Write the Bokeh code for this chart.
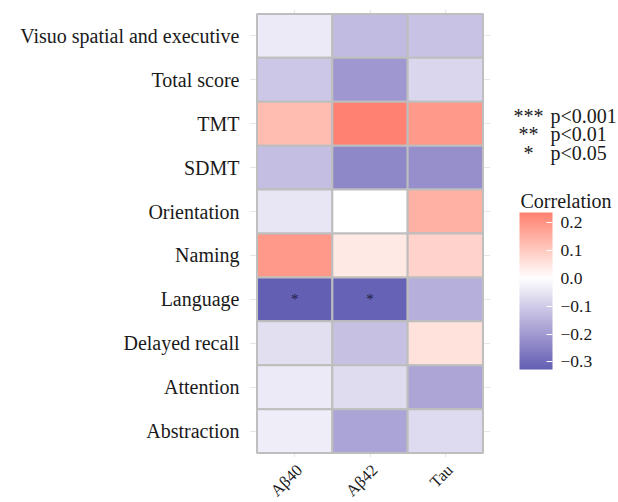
import numpy as np
from math import pi
from bokeh.plotting import figure
from bokeh.layouts import row, column
from bokeh.models import (ColumnDataSource, LinearColorMapper, ColorBar, FixedTicker,
                          Range1d)
from bokeh.core.properties import value
from bokeh.embed import file_html
from bokeh.resources import INLINE

# ---------------- data ----------------
outcomes = ["Visuo spatial and executive", "Total score", "TMT", "SDMT", "Orientation",
            "Naming", "Language", "Delayed recall", "Attention", "Abstraction"]
markers = ["Aβ40", "Aβ42", "Tau"]

r_abeta40 = [-0.040, -0.109, 0.125, -0.125, -0.049, 0.188, -0.327, -0.062, -0.040, -0.034]
r_abeta42 = [-0.132, -0.204, 0.236, -0.239, 0.000, 0.041, -0.320, -0.121, -0.066, -0.178]
r_tau     = [-0.116, -0.080, 0.191, -0.223, 0.147, 0.084, -0.156, 0.055, -0.176, -0.071]

sig_abeta40 = ["", "", "", "", "", "", "*", "", "", ""]
sig_abeta42 = ["", "", "", "", "", "", "*", "", "", ""]
sig_tau     = ["", "", "", "", "", "", "", "", "", ""]

legend_stars = ["***", "**", "*"]
legend_p = ["p<0.001", "p<0.01", "p<0.05"]
legend_title = "Correlation"
cbar_ticks = [-0.3, -0.2, -0.1, 0.0, 0.1, 0.2]
cbar_labels = ["−0.3", "−0.2", "−0.1", "0.0", "0.1", "0.2"]

# ---------------- colour helpers (Lab interpolation, like ggplot gradient2) ----------------
M = np.array([[0.4124564, 0.3575761, 0.1804375],
              [0.2126729, 0.7151522, 0.0721750],
              [0.0193339, 0.1191920, 0.9503041]])
WP = np.array([0.95047, 1.0, 1.08883])

def hex_to_lab(h):
    rgb = np.array([int(h[i:i + 2], 16) for i in (1, 3, 5)]) / 255.0
    lin = np.where(rgb <= 0.04045, rgb / 12.92, ((rgb + 0.055) / 1.055) ** 2.4)
    xyz = (M @ lin) / WP
    f = np.where(xyz > 0.008856, np.cbrt(xyz), 7.787 * xyz + 16 / 116)
    return np.array([116 * f[1] - 16, 500 * (f[0] - f[1]), 200 * (f[1] - f[2])])

def lab_to_hex(lab):
    L, a, b = lab
    fy = (L + 16) / 116
    f = np.array([fy + a / 500, fy, fy - b / 200])
    xyz = np.where(f ** 3 > 0.008856, f ** 3, (f - 16 / 116) / 7.787) * WP
    lin = np.clip(np.linalg.inv(M) @ xyz, 0, 1)
    rgb = np.where(lin <= 0.0031308, 12.92 * lin, 1.055 * lin ** (1 / 2.4) - 0.055)
    return "#%02x%02x%02x" % tuple(int(round(c * 255)) for c in np.clip(rgb, 0, 1))

LOW_COL = "#625FB3"
HIGH_COL = "#FE8070"
all_r = r_abeta40 + r_abeta42 + r_tau
vmin, vmax = min(all_r), max(all_r)
lab_w, lab_lo, lab_hi = hex_to_lab("#FFFFFF"), hex_to_lab(LOW_COL), hex_to_lab(HIGH_COL)
N = 256
palette = []
for k in range(N):
    v = vmin + (k + 0.5) * (vmax - vmin) / N
    if v < 0:
        t = v / vmin
        palette.append(lab_to_hex(lab_w + t * (lab_lo - lab_w)))
    else:
        t = v / vmax
        palette.append(lab_to_hex(lab_w + t * (lab_hi - lab_w)))
mapper = LinearColorMapper(palette=palette, low=vmin, high=vmax)

# ---------------- data source ----------------
n = len(outcomes)
xs, ys, rs = [], [], []
sx, sy, st = [], [], []
for j, (vals, sig) in enumerate([(r_abeta40, sig_abeta40), (r_abeta42, sig_abeta42), (r_tau, sig_tau)]):
    for i in range(n):
        xs.append(j + 1)
        ys.append(n - i)
        rs.append(vals[i])
        if sig[i]:
            sx.append(j + 1)
            sy.append(n - i)
            st.append(sig[i])
src = ColumnDataSource(dict(x=xs, y=ys, r=rs))
ssrc = ColumnDataSource(dict(x=sx, y=sy, t=st))

FONT = "Liberation Serif"
TXT = "#1a1a1a"

x_range = Range1d(0.4, len(markers) + 0.6)
y_range = Range1d(0.4, n + 0.6)

# ---------------- heatmap ----------------
p = figure(width=490, height=457, output_backend="svg", toolbar_location=None,
           x_range=x_range, y_range=y_range,
           min_border_left=249, min_border_right=0, min_border_top=9, min_border_bottom=0)
p.outline_line_color = None
p.background_fill_color = "white"
p.border_fill_color = "white"

p.rect(x="x", y="y", width=1, height=1, source=src,
       fill_color={"field": "r", "transform": mapper},
       line_color="#BEBEBE", line_width=2)
p.text(x="x", y="y", text="t", source=ssrc, text_font=value(FONT),
       text_font_size="15px", text_align="center", text_baseline="middle",
       text_color="#1c1c3c")

p.xaxis.visible = False
p.xgrid.ticker = FixedTicker(ticks=list(range(1, len(markers) + 1)))
p.ygrid.ticker = FixedTicker(ticks=list(range(1, n + 1)))
p.grid.grid_line_color = "#E6E6E6"
p.grid.grid_line_width = 1.2
p.yaxis.ticker = FixedTicker(ticks=list(range(1, n + 1)))
p.yaxis.major_label_overrides = {n - i: o for i, o in enumerate(outcomes)}
p.yaxis.axis_line_color = None
p.yaxis.major_tick_line_color = None
p.yaxis.major_tick_out = 0
p.yaxis.major_tick_in = 0
p.yaxis.minor_tick_line_color = None
p.yaxis.minor_tick_out = 0
p.yaxis.major_label_standoff = 10
p.yaxis.major_label_text_font = FONT
p.yaxis.major_label_text_font_size = "20px"
p.yaxis.major_label_text_color = TXT

# ---------------- rotated x tick labels ----------------
px = figure(width=490, height=45, output_backend="svg", toolbar_location=None,
            x_range=x_range, y_range=Range1d(45, 0),
            x_axis_type=None, y_axis_type=None,
            min_border_left=249, min_border_right=0, min_border_top=0, min_border_bottom=0)
px.outline_line_color = None
px.grid.visible = False
xsrc = ColumnDataSource(dict(x=list(range(1, len(markers) + 1)), t=markers))
px.text(x="x", y=3, text="t", source=xsrc, angle=pi / 4, text_align="right",
        text_baseline="top", x_offset=-2, text_font=value(FONT), text_font_size="16.5px",
        text_color=TXT)

# ---------------- legend panel ----------------
pl = figure(width=128, height=502, output_backend="svg", toolbar_location=None,
            x_range=Range1d(0, 128), y_range=Range1d(502, 0),
            x_axis_type=None, y_axis_type=None,
            min_border_left=0, min_border_right=0, min_border_top=0, min_border_bottom=0)
pl.outline_line_color = None
pl.grid.visible = False
lsrc = ColumnDataSource(dict(y=[115, 133.5, 152], s=legend_stars, t=legend_p))
pl.text(x=38, y="y", text="s", source=lsrc, text_align="center", text_baseline="alphabetic",
        text_font=value(FONT), text_font_size="20px", text_color=TXT)
pl.text(x=60, y="y", text="t", source=lsrc, text_align="left", text_baseline="alphabetic",
        text_font=value(FONT), text_font_size="20px", text_color=TXT)
pl.text(x=30, y=200, text=[legend_title], text_align="left", text_baseline="alphabetic",
        text_font=value(FONT), text_font_size="20px", text_color=TXT)

cb = ColorBar(color_mapper=mapper, width=33, height=157, location=(29, 133),
              ticker=FixedTicker(ticks=cbar_ticks),
              major_label_overrides=dict(zip(cbar_ticks, cbar_labels)),
              major_label_text_font=FONT, major_label_text_font_size="17.5px",
              major_label_text_color=TXT, label_standoff=8,
              major_tick_line_color="white", major_tick_in=6, major_tick_out=0,
              minor_tick_line_color=None, bar_line_color=None,
              padding=0, margin=0, border_line_color=None, background_fill_color=None)
pl.add_layout(cb)

layout = row(column(p, px), pl)
open("out.html", "w").write(file_html(layout, INLINE))
